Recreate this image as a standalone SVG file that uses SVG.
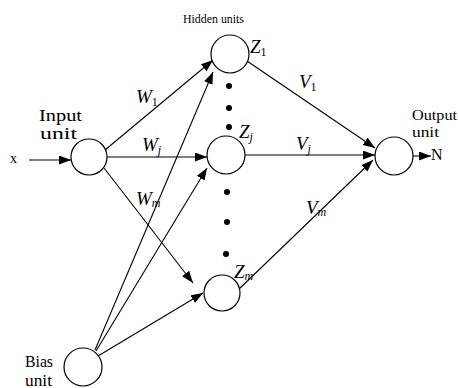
<svg xmlns="http://www.w3.org/2000/svg" width="458" height="388" viewBox="0 0 458 388">
<defs>
<marker id="ah" markerUnits="userSpaceOnUse" markerWidth="13" markerHeight="10" refX="12" refY="4.5" orient="auto">
<path d="M0,0 L12,4.5 L0,9 z" fill="#000"/>
</marker>
<style>
.node{fill:#fff;stroke:#000;stroke-width:1.2}
.edge{stroke:#000;stroke-width:1.1;fill:none;marker-end:url(#ah)}
.t{font-family:"Liberation Serif","Times New Roman",serif;fill:#000}
.m{font-family:"Liberation Serif","Times New Roman",serif;font-style:italic;font-size:19px;fill:#000}
.s{font-size:12px}
.su{font-style:normal;font-size:12px}
.dot{fill:#000}
</style>
</defs>
<rect width="458" height="388" fill="#fff"/>
<g id="connectors">
<line class="edge" x1="29" y1="160" x2="71" y2="160"/>
<line class="edge" x1="105" y1="150" x2="213" y2="60"/>
<line class="edge" x1="107" y1="157" x2="207" y2="157"/>
<line class="edge" x1="104" y1="168" x2="193" y2="283"/>
<line class="edge" x1="95" y1="350" x2="213" y2="72"/>
<line class="edge" x1="96" y1="351" x2="207" y2="168"/>
<line class="edge" x1="98" y1="356" x2="203" y2="293"/>
<line class="edge" x1="247" y1="61" x2="375" y2="148"/>
<line class="edge" x1="245" y1="155" x2="375" y2="155"/>
<line class="edge" x1="238" y1="290" x2="373" y2="160"/>
<line class="edge" x1="413" y1="156" x2="431" y2="156"/>
</g>
<g id="input">
<circle class="node" cx="89" cy="157" r="18"/>
<text class="t" x="39" y="121" font-size="17" textLength="43" lengthAdjust="spacingAndGlyphs">Input</text>
<text class="t" x="40" y="139" font-size="17" textLength="37" lengthAdjust="spacingAndGlyphs">unit</text>
</g>
<g id="x-label"><text class="t" x="10" y="163" font-size="14">x</text></g>
<g id="z1">
<circle class="node" cx="230" cy="54" r="19"/>
<text class="m" x="250" y="53">Z<tspan class="su" dy="3">1</tspan></text>
</g>
<g id="zj">
<circle class="node" cx="226" cy="155" r="19"/>
<text class="m" x="239" y="138">Z<tspan class="s" dy="3">j</tspan></text>
</g>
<g id="zm">
<circle class="node" cx="222" cy="293" r="18"/>
<text class="m" x="234" y="278">Z<tspan class="s" dy="2">m</tspan></text>
</g>
<g id="hidden-label"><text class="t" x="183" y="23" font-size="13" textLength="61" lengthAdjust="spacingAndGlyphs">Hidden units</text></g>
<g id="dots">
<circle class="dot" cx="229" cy="86" r="3"/>
<circle class="dot" cx="229" cy="108" r="3"/>
<circle class="dot" cx="229" cy="127" r="3"/>
<circle class="dot" cx="227" cy="192" r="3"/>
<circle class="dot" cx="227" cy="222" r="3"/>
<circle class="dot" cx="226" cy="254" r="3"/>
</g>
<g id="output">
<circle class="node" cx="394" cy="156" r="19"/>
<text class="t" x="412" y="120" font-size="15" textLength="45" lengthAdjust="spacingAndGlyphs">Output</text>
<text class="t" x="412" y="137" font-size="15" textLength="27" lengthAdjust="spacingAndGlyphs">unit</text>
</g>
<g id="n-label"><text class="t" x="431" y="160" font-size="16">N</text></g>
<g id="bias">
<circle class="node" cx="83" cy="367" r="19"/>
<text class="t" x="25" y="367" font-size="16" textLength="28" lengthAdjust="spacingAndGlyphs">Bias</text>
<text class="t" x="25" y="386" font-size="16" textLength="27" lengthAdjust="spacingAndGlyphs">unit</text>
</g>
<g id="weights">
<text class="m" x="136" y="103">W<tspan class="su" dy="3">1</tspan></text>
<text class="m" x="142" y="151">W<tspan class="s" dy="3">j</tspan></text>
<text class="m" x="136" y="205">W<tspan class="s" dy="2">m</tspan></text>
<text class="m" x="299" y="88">V<tspan class="su" dy="3">1</tspan></text>
<text class="m" x="296" y="150">V<tspan class="s" dy="3">j</tspan></text>
<text class="m" x="306" y="214">V<tspan class="s" dy="2">m</tspan></text>
</g>
</svg>
